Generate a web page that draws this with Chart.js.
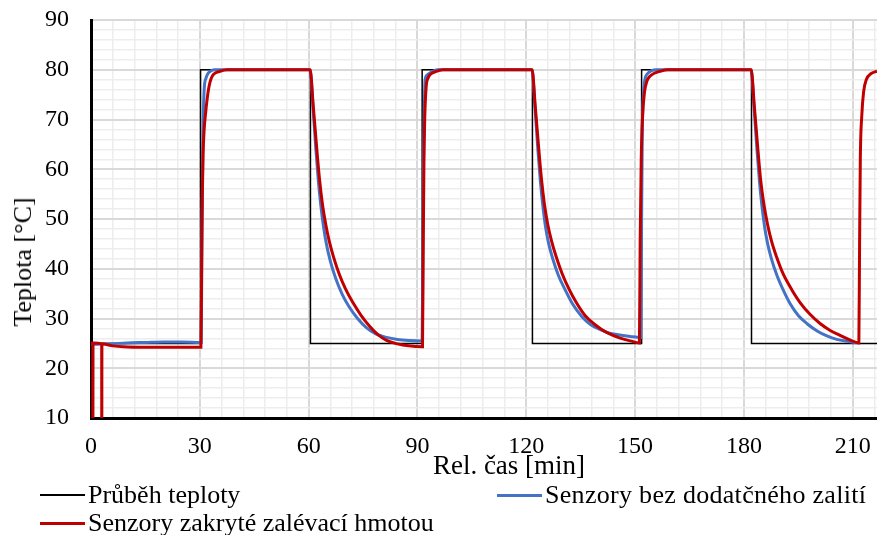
<!DOCTYPE html>
<html>
<head>
<meta charset="utf-8">
<script src="https://cdn.jsdelivr.net/npm/chart.js@4/dist/chart.umd.min.js"></script>
<style>
  html, body { margin: 0; padding: 0; background: #fff; }
  #wrap { position: relative; width: 877px; height: 535px; overflow: hidden; }
  #c { position: absolute; left: 0; top: 0; }
  .t { position: absolute; font-family: "Liberation Serif", "Times New Roman", serif; color: #000; white-space: nowrap; }
  .lg { font-size: 26px; line-height: 28px; }
  .lg span.sw { display: inline-block; width: 45px; height: 3px; vertical-align: middle; margin-right: 3px; position: relative; top: -2px; }
  #ytitle { font-size: 26px; line-height: 30px; left: 23px; top: 262px; transform: translate(-50%, -50%) rotate(-90deg); }
  #xtitle { font-size: 27px; line-height: 30px; left: 509px; top: 450px; transform: translateX(-50%); }
</style>
</head>
<body>
<div id="wrap">
  <canvas id="c" width="877" height="535"></canvas>
  <div class="t" id="ytitle"></div>
  <div class="t" id="xtitle"></div>
  <div class="t lg" style="left:40px; top:481px;"><span class="sw" style="background:#000;height:2px;"></span><span id="lg0"></span></div>
  <div class="t lg" style="left:497px; top:481px;"><span class="sw" style="background:#4472C4;"></span><span id="lg1" style="letter-spacing:0.3px"></span></div>
  <div class="t lg" style="left:40px; top:509px;"><span class="sw" style="background:#C00000;"></span><span id="lg2"></span></div>
</div>
<script>
// ---- data (minutes, °C) ----
const setTime  = [0, 30.2, 30.2, 60.5, 60.5, 91.3, 91.3, 121.7, 121.7, 151.8, 151.8, 182.1, 182.1, 216.7];
const setTemp  = [25, 25, 80, 80, 25, 25, 80, 80, 25, 25, 80, 80, 25, 25];

const bareTime = [0, 5, 10, 15, 20, 25, 30.2,
  30.4, 30.6, 30.9, 31.2, 31.7, 32.2, 32.9, 34, 60.4,
  61.2, 62.0, 62.7, 63.4, 64.1, 64.9, 66.0, 67.5, 69.3, 71.2, 73.5, 76, 78.5, 81.5, 84.5, 87.5, 91.3,
  91.45, 91.65, 91.9, 92.1, 92.6, 94.0, 95.5, 121.6,
  122.4, 123.2, 123.9, 124.6, 125.3, 126.1, 127.3, 128.9, 130.7, 132.7, 135.3, 137.7, 140.3, 142.7, 145.7, 148.7, 151.6,
  151.8, 152.0, 152.3, 152.7, 153.4, 154.5, 156, 182.0,
  182.8, 183.6, 184.3, 185.0, 185.7, 186.5, 187.6, 189.1, 190.8, 192.8, 195, 197.5, 200.2, 202.9, 205.6, 208.5, 211.5];
const bareTemp = [24.8, 24.9, 25.1, 25.2, 25.3, 25.3, 25.2,
  25.2, 50, 68, 76, 78.3, 79.2, 79.7, 80, 80,
  72.5, 64, 57.5, 52.5, 48.5, 45, 41.5, 38, 34.8, 32.3, 30.0, 28.1, 26.9, 26.2, 25.8, 25.6, 25.5,
  40, 60, 72, 77.9, 78.9, 79.6, 80, 80,
  72.5, 64, 57.5, 52.5, 48.5, 45.3, 42, 38.6, 35.8, 33, 30.4, 28.8, 27.8, 27.1, 26.7, 26.4, 26.2,
  50, 68, 75, 78, 79.2, 79.8, 80, 80,
  72.5, 64, 57.5, 52.5, 48.5, 45.2, 42, 38.7, 35.8, 32.9, 30.6, 28.9, 27.5, 26.5, 25.8, 25.4, 25.1];

const pottedTime = [0, 0.5, 0.52, 0.56, 2.95, 2.97, 3.01, 6, 9, 15, 25, 30.2,
  30.3, 30.5, 30.7, 30.9, 31.2, 31.6, 32.0, 32.5, 33.1, 33.8, 35.6, 37.5, 60.4,
  61.3, 62.2, 63.0, 63.8, 64.7, 65.7, 66.9, 68.4, 70.2, 72.2, 74.5, 77, 79.2, 81.5, 84.5, 87.5, 91.3,
  91.4, 91.6, 91.8, 92.0, 92.4, 92.9, 93.8, 94.9, 97, 121.6,
  122.5, 123.4, 124.2, 125.0, 125.9, 127.0, 128.3, 129.9, 131.8, 133.8, 136.2, 138.9, 140.8, 142.7, 145.7, 148.7, 151.2,
  151.4, 151.7, 152.1, 152.6, 153.3, 154.1, 155.3, 156.9, 159, 182.0,
  182.9, 183.8, 184.6, 185.5, 186.5, 187.6, 189.0, 190.8, 193.2, 195.7, 198.3, 201.0, 203.8, 206.5, 209.2, 211.7,
  211.9, 212.1, 212.5, 213.0, 213.8, 215, 216.7];
const pottedTemp = [25.1, 25.1, 0, 25.1, 24.9, 0, 24.9, 24.5, 24.3, 24.2, 24.2, 24.2,
  24.2, 40, 55, 63, 68, 71.3, 74, 76.5, 78.2, 79.1, 79.7, 80, 80,
  72.5, 64.5, 58, 53, 49, 45.5, 42.3, 39, 35.9, 33.2, 30.6, 28.3, 26.7, 25.6, 24.9, 24.5, 24.3,
  24.3, 45, 62, 70, 76.5, 78.3, 79.2, 79.6, 80, 80,
  72.5, 64.5, 58, 53, 49, 45.5, 42.3, 39, 35.9, 33.2, 30.6, 28.8, 27.8, 27.0, 26.1, 25.5, 25.1,
  45, 62, 71, 75.5, 77.8, 78.7, 79.3, 79.7, 80, 80,
  72.5, 64.5, 58, 53, 49, 45.6, 42.4, 39, 35.8, 33.0, 30.8, 29.0, 27.6, 26.6, 25.7, 25.1,
  45, 62, 70.7, 75.5, 78.1, 79.2, 79.7];

const xMin = 0, xMax = 216.7, xStep = 6, xLabelStep = 30;
const yMin = 10, yMax = 90, yStep = 2, yLabelStep = 10;
const seriesNames = ['Průběh teploty', 'Senzory bez dodatčného zalití', 'Senzory zakryté zalévací hmotou'];
const xTitle = 'Rel. čas [min]';
const yTitle = 'Teplota [°C]';

// ---- text ----
document.getElementById('xtitle').textContent = xTitle;
document.getElementById('ytitle').textContent = yTitle;
seriesNames.forEach((n, i) => { document.getElementById('lg' + i).textContent = n; });

// ---- build ----
const pts = (xs, ys) => xs.map((x, i) => ({ x: x, y: ys[i] }));
const FONT = '"Liberation Serif", "Times New Roman", serif';

function stepTicks(min, max, step) {
  const out = [];
  for (let v = min; v <= max + 1e-9; v += step) out.push({ value: Math.round(v * 1000) / 1000 });
  return out;
}
const isMajor = (v, s) => Math.abs(v / s - Math.round(v / s)) < 1e-6;

new Chart(document.getElementById('c'), {
  type: 'line',
  data: {
    datasets: [
      { label: seriesNames[0], data: pts(setTime, setTemp), borderColor: '#000000', borderWidth: 1.5, pointRadius: 0, tension: 0, order: 3 },
      { label: seriesNames[1], data: pts(bareTime, bareTemp), borderColor: '#4472C4', borderWidth: 3, pointRadius: 0, cubicInterpolationMode: 'monotone', order: 2 },
      { label: seriesNames[2], data: pts(pottedTime, pottedTemp), borderColor: '#C00000', borderWidth: 3, pointRadius: 0, cubicInterpolationMode: 'monotone', order: 1 }
    ]
  },
  options: {
    responsive: false,
    animation: false,
    events: [],
    layout: { padding: { top: 20, right: 0, bottom: 55, left: 0 } },
    plugins: { legend: { display: false }, tooltip: { enabled: false } },
    scales: {
      x: {
        type: 'linear', min: xMin, max: xMax,
        afterBuildTicks: s => { s.ticks = stepTicks(xMin, xMax, xStep); },
        afterFit: s => { s.height = 62; s.paddingLeft = 0; s.paddingRight = 0; },
        ticks: { autoSkip: false, maxRotation: 0, padding: 14, color: '#000', font: { family: FONT, size: 24 },
          callback: v => isMajor(v, xLabelStep) ? String(v) : '' },
        grid: { drawTicks: false, color: c => (c.tick && isMajor(c.tick.value, xLabelStep)) ? '#d9d9d9' : '#ededed', lineWidth: c => (c.tick && isMajor(c.tick.value, xLabelStep)) ? 2 : 1.5 },
        border: { color: '#000', width: 3 }
      },
      y: {
        type: 'linear', min: yMin, max: yMax,
        afterBuildTicks: s => { s.ticks = stepTicks(yMin, yMax, yStep); },
        afterFit: s => { s.width = 91; s.paddingTop = 0; s.paddingBottom = 0; },
        ticks: { autoSkip: false, padding: 22, color: '#000', font: { family: FONT, size: 24 },
          callback: v => isMajor(v, yLabelStep) ? String(v) : '' },
        grid: { drawTicks: false, color: c => (c.tick && isMajor(c.tick.value, yLabelStep)) ? '#d9d9d9' : '#ededed', lineWidth: c => (c.tick && isMajor(c.tick.value, yLabelStep)) ? 2 : 1.5 },
        border: { color: '#000', width: 3 }
      }
    }
  }
});
</script>
</body>
</html>
